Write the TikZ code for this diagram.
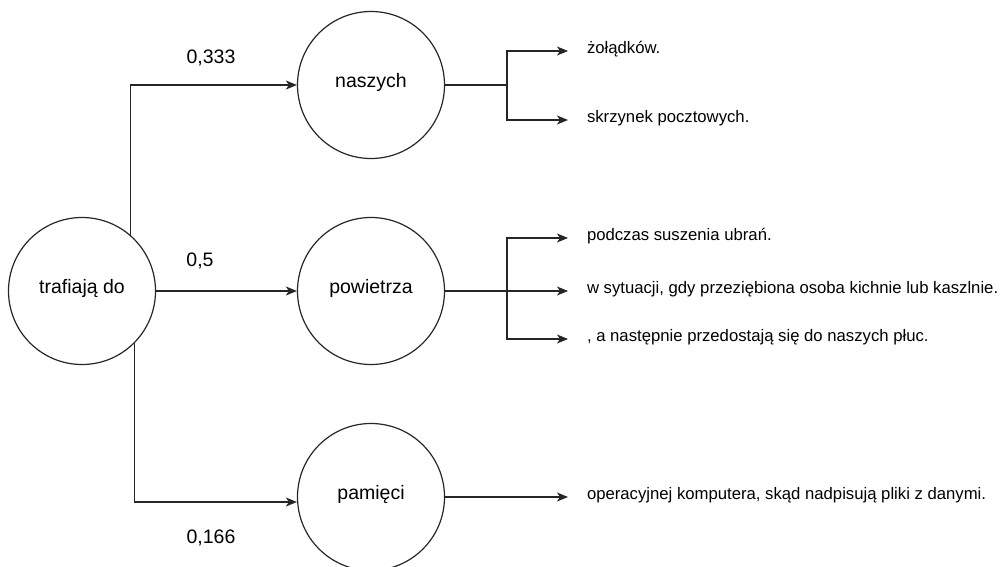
\documentclass[tikz,border=0pt]{standalone}
\usepackage{fontspec}
\setmainfont{Liberation Sans}
\usetikzlibrary{arrows.meta}
\begin{document}
\begin{tikzpicture}[x=1pt,y=-1pt,
  line width=1.2pt,
  ink/.style={draw=black!85},
  arr/.style={ink,-{Stealth[length=11pt,width=9pt,inset=3pt]}},
  word/.style={circle,ink,minimum size=147pt,inner sep=0pt,
    font=\fontsize{19.5}{22}\selectfont,text height=0.74em,text depth=0.2em},
  weight/.style={inner sep=0pt,font=\fontsize{19.5}{22}\selectfont},
  ending/.style={anchor=west,inner sep=0pt,outer xsep=19pt,
    font=\fontsize{16.7}{19}\selectfont,text height=0.74em,text depth=0.2em}]
  \useasboundingbox (0,0) rectangle (1006,567);

  % words of the sentence tree
  \node[word] (A) at (82,291) {trafiają do};
  \node[word] (N) at (371,85) {naszych};
  \node[word] (W) at (371,291) {powietrza};
  \node[word] (P) at (371,497) {pamięci};

  % probabilities of each continuation
  \node[weight] (wN) at (211,58) {0,333};
  \node[weight] (wW) at (200,261) {0,5};
  \node[weight] (wP) at (211,538) {0,166};

  \draw[arr] (A.49) |- (N);
  \draw[arr] (A) -- (W);
  \draw[arr] (A.-45) |- ([yshift=-5pt]P.west);

  % sentence endings
  \node[ending] (e1) at (568,51)  {żołądków.};
  \node[ending] (e2) at (568,120) {skrzynek pocztowych.};
  \node[ending] (e3) at (568,238) {podczas suszenia ubrań.};
  \node[ending] (e4) at (568,291) {w sytuacji, gdy przeziębiona osoba kichnie lub kaszlnie.};
  \node[ending] (e5) at (568,339) {, a następnie przedostają się do naszych płuc.};
  \node[ending] (e6) at (568,497) {operacyjnej komputera, skąd nadpisują pliki z danymi.};

  \coordinate (nb) at (507,85);
  \coordinate (wb) at (507,291);

  \draw[ink] (N) -- (nb);
  \draw[arr] (nb) |- (e1.west);
  \draw[arr] (nb) |- (e2.west);

  \draw[arr] (W) -- (e4.west);
  \draw[arr] (wb) |- (e3.west);
  \draw[arr] (wb) |- (e5.west);

  \draw[arr] (P) -- (e6.west);
\end{tikzpicture}
\end{document}
